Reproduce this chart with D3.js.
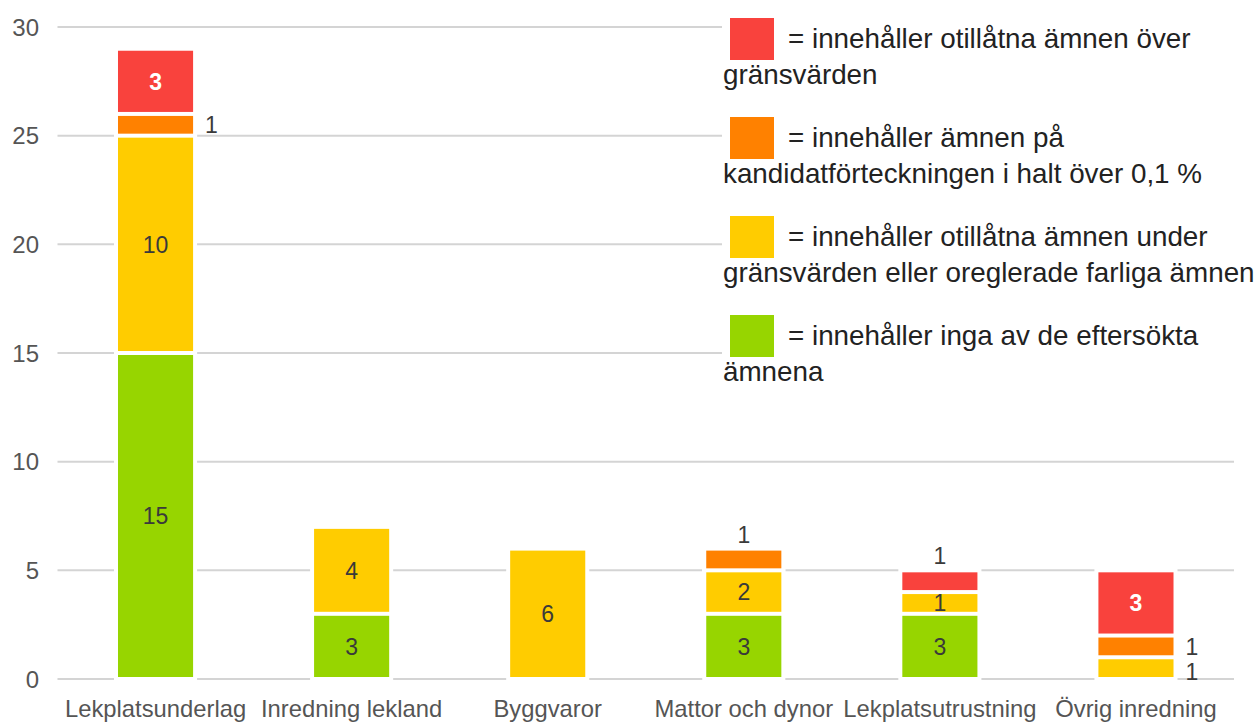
<!DOCTYPE html>
<html>
<head>
<meta charset="utf-8">
<script src="https://cdn.jsdelivr.net/npm/d3@7"></script>
<style>
  html, body { margin: 0; padding: 0; background: #fff; }
  svg { display: block; font-family: "Liberation Sans", Arial, sans-serif; }
</style>
</head>
<body>
<svg id="chart" width="1260" height="722"></svg>
<script>
// Product groups on the x axis
const categories = ["Lekplatsunderlag", "Inredning lekland", "Byggvaror",
  "Mattor och dynor", "Lekplatsutrustning", "Övrig inredning"];

// Number of products per finding, stacked bottom to top
const seriesKeys = ["inga", "under", "kandidat", "over"];
const ingaValues     = [15, 3, 0, 3, 3, 0];
const underValues    = [10, 4, 6, 2, 1, 1];
const kandidatValues = [1, 0, 0, 1, 0, 1];
const overValues     = [3, 0, 0, 0, 1, 3];

const yTicks = [0, 5, 10, 15, 20, 25, 30];

const legendLabels = [
  ["= innehåller otillåtna ämnen över", "gränsvärden"],
  ["= innehåller ämnen på", "kandidatförteckningen i halt över 0,1 %"],
  ["= innehåller otillåtna ämnen under", "gränsvärden eller oreglerade farliga ämnen"],
  ["= innehåller inga av de eftersökta", "ämnena"]
];
const legendKeys = ["over", "kandidat", "under", "inga"];

const colors = { inga: "#97d500", under: "#ffcc00", kandidat: "#ff8100", over: "#f9423d" };

// Small segments whose value label sits outside the bar
const outsideLabel = {
  "Lekplatsunderlag|kandidat": "right",
  "Mattor och dynor|kandidat": "above",
  "Lekplatsutrustning|over": "above",
  "Övrig inredning|kandidat": "right",
  "Övrig inredning|under": "rightLow"
};

const rows = categories.map((c, i) => ({
  category: c,
  inga: ingaValues[i], under: underValues[i], kandidat: kandidatValues[i], over: overValues[i]
}));
const stacked = d3.stack().keys(seriesKeys)(rows);

const svg = d3.select("#chart");
const x = d3.scaleBand().domain(categories).range([57.5, 1234]).paddingInner(0.617).paddingOuter(0.3085);
const y = d3.scaleLinear().domain([0, 30]).range([679, 27]);

// Gridlines
svg.append("g").selectAll("line").data(yTicks).join("line")
  .attr("x1", 57.5).attr("x2", 1234)
  .attr("y1", d => y(d)).attr("y2", d => y(d))
  .attr("stroke", "#d4d4d4").attr("stroke-width", 2);

// Y tick labels
svg.append("g").selectAll("text").data(yTicks).join("text")
  .attr("x", 39).attr("y", d => y(d)).attr("dy", "0.36em")
  .attr("text-anchor", "end").attr("font-size", 24).attr("fill", "#555")
  .text(d => d);

// Category labels
svg.append("g").selectAll("text").data(categories).join("text")
  .attr("x", d => x(d) + x.bandwidth() / 2).attr("y", 717)
  .attr("text-anchor", "middle").attr("font-size", 23.8).attr("fill", "#555")
  .text(d => d);

// Segments, with a white halo that separates them and breaks the gridlines
const segs = [];
stacked.forEach(s => s.forEach(d => {
  if (d[1] - d[0] > 0) segs.push({ key: s.key, category: d.data.category, y0: d[0], y1: d[1], value: d[1] - d[0] });
}));
const gap = 2;
svg.append("g").selectAll("rect").data(segs).join("rect")
  .attr("x", d => x(d.category) - 4).attr("width", x.bandwidth() + 8)
  .attr("y", d => y(d.y1) - gap).attr("height", d => y(d.y0) - y(d.y1) + 2 * gap)
  .attr("fill", "#fff");
svg.append("g").selectAll("rect").data(segs).join("rect")
  .attr("x", d => x(d.category)).attr("width", x.bandwidth())
  .attr("y", d => y(d.y1) + gap).attr("height", d => y(d.y0) - y(d.y1) - 2 * gap)
  .attr("fill", d => colors[d.key]);

// Value labels
svg.append("g").selectAll("text").data(segs).join("text")
  .attr("font-size", 23)
  .each(function (d) {
    const t = d3.select(this);
    const pos = outsideLabel[d.category + "|" + d.key];
    const cx = x(d.category) + x.bandwidth() / 2;
    const cy = y((d.y0 + d.y1) / 2);
    if (pos === "right" || pos === "rightLow") {
      t.attr("x", x(d.category) + x.bandwidth() + 12).attr("y", cy + (pos === "rightLow" ? 4 : 0))
        .attr("dy", "0.36em").attr("text-anchor", "start").attr("fill", "#3a3a3a");
    } else if (pos === "above") {
      t.attr("x", cx).attr("y", y(d.y1) - 6).attr("text-anchor", "middle").attr("fill", "#3a3a3a");
    } else {
      t.attr("x", cx).attr("y", cy).attr("dy", "0.36em").attr("text-anchor", "middle")
        .attr("fill", d.key === "over" ? "#fff" : "#3a3a3a")
        .attr("font-weight", d.key === "over" ? "bold" : null);
    }
  })
  .text(d => d.value);

// Legend
const legend = svg.append("g");
legend.append("rect").attr("x", 722).attr("y", 8).attr("width", 538).attr("height", 390).attr("fill", "#fff");
const item = legend.selectAll("g").data(legendKeys).join("g")
  .attr("transform", (d, i) => `translate(0, ${i * 99})`);
item.append("rect").attr("x", 730).attr("y", 18).attr("width", 44).attr("height", 42)
  .attr("fill", d => colors[d]);
item.append("text").attr("x", 788).attr("y", 48).attr("font-size", 27.8).attr("fill", "#222")
  .text((d, i) => legendLabels[i][0]);
item.append("text").attr("x", 723).attr("y", 84).attr("font-size", 27.8).attr("fill", "#222")
  .text((d, i) => legendLabels[i][1]);
</script>
</body>
</html>
